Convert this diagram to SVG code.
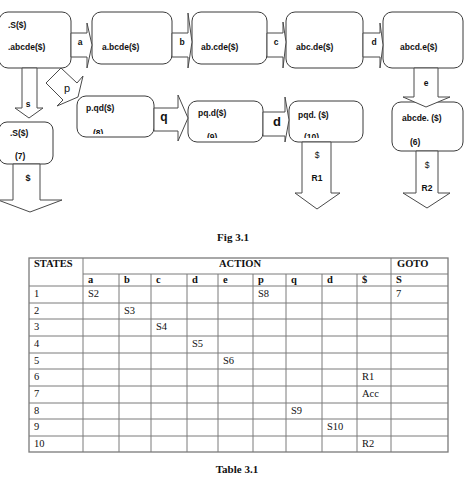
<svg xmlns="http://www.w3.org/2000/svg" width="466" height="478" viewBox="0 0 466 478">
<style>
.nd{fill:#fff;stroke:#3a3a3a;stroke-width:1}
.ar{fill:#fff;stroke:#4a4a4a;stroke-width:1;stroke-linejoin:miter}
.t{font-family:"Liberation Sans",Arial,sans-serif;font-weight:bold;font-size:8.5px;fill:#111}
.l{font-family:"Liberation Sans",Arial,sans-serif;font-weight:bold;font-size:8.5px;fill:#111;text-anchor:middle}
.tb{font-family:"Liberation Serif","Times New Roman",serif;font-size:10.5px;fill:#111}
.tbb{font-family:"Liberation Serif","Times New Roman",serif;font-size:10.5px;font-weight:bold;fill:#111}
.cap{font-family:"Liberation Serif","Times New Roman",serif;font-size:11px;font-weight:bold;fill:#111;text-anchor:middle}
.g{stroke:#7a7a7a;stroke-width:1;fill:none}
</style>
<defs>
<clipPath id="c8"><rect x="77" y="96" width="77" height="38"/></clipPath>
<clipPath id="c9"><rect x="188" y="101" width="75" height="37"/></clipPath>
<clipPath id="c10"><rect x="289" y="101" width="74" height="37"/></clipPath>
</defs>
<rect width="466" height="478" fill="#fff"/>

<g id="n1"><rect class="nd" x="-1" y="12" width="72" height="56" rx="9"/><text class="t" x="8" y="28">.S($)</text><text class="t" x="8" y="50">.abcde($)</text></g>
<g id="n2"><rect class="nd" x="92" y="12" width="80" height="52" rx="9"/><text class="t" x="102" y="50">a.bcde($)</text></g>
<g id="n3"><rect class="nd" x="192" y="12" width="75" height="52" rx="9"/><text class="t" x="201" y="50">ab.cde($)</text></g>
<g id="n4"><rect class="nd" x="286" y="12" width="77" height="56" rx="9"/><text class="t" x="296" y="50">abc.de($)</text></g>
<g id="n5"><rect class="nd" x="383" y="12" width="80" height="56" rx="9"/><text class="t" x="400" y="50">abcd.e($)</text></g>
<g id="n6"><rect class="nd" x="392" y="102" width="71" height="49" rx="9"/><text class="t" x="402" y="121">abcde. ($)</text><text class="t" x="410" y="145">(6)</text></g>
<g id="n7"><rect class="nd" x="-1" y="122" width="54" height="42" rx="8"/><text class="t" x="10" y="136">.S($)</text><text class="t" x="15" y="159">(7)</text></g>
<g id="n8"><rect class="nd" x="77" y="96" width="77" height="41" rx="9"/><text class="t" x="86" y="111">p.qd($)</text><text class="t" x="93" y="136" clip-path="url(#c8)">(8)</text></g>
<g id="n9"><rect class="nd" x="188" y="101" width="75" height="41" rx="9"/><text class="t" x="198" y="116">pq.d($)</text><text class="t" x="207" y="140" clip-path="url(#c9)">(9)</text></g>
<g id="n10"><rect class="nd" x="289" y="101" width="74" height="41" rx="9"/><text class="t" x="298" y="118">pqd. ($)</text><text class="t" x="304" y="140" clip-path="url(#c10)">(10)</text></g>

<g id="connectors">
<polygon class="ar" points="71,33 87,33 87,23 92,45 87,68 87,57 71,57"/>
<text class="l" x="80" y="45">a</text>
<polygon class="ar" points="172,33 188,33 188,13 192,42 188,68 188,57 172,57"/>
<text class="l" x="182" y="45">b</text>
<polygon class="ar" points="267,33 283,33 283,22 286,42 283,68 283,57 267,57"/>
<text class="l" x="276" y="45">c</text>
<polygon class="ar" points="363,33 380,33 380,23 383,45 380,68 380,57 363,57"/>
<text class="l" x="374" y="45">d</text>
<polygon class="ar" points="414,68 414,97 403,97 426,107 450,97 438,97 438,68"/>
<text class="l" x="426" y="86">e</text>
<polygon class="ar" points="416,151 416,193 403,193 427,208 450,193 438,193 438,151"/>
<text class="l" x="427" y="168" style="font-weight:normal">$</text>
<text class="l" x="427" y="191">R2</text>
<polygon class="ar" points="302,142 302,193 295,193 317,209 340,193 331,193 331,142"/>
<text class="l" x="317" y="158" style="font-weight:normal">$</text>
<text class="l" x="317" y="181">R1</text>
<polygon class="ar" points="22,68 22,108 15,108 29,118 43,108 37,108 37,68"/>
<text class="l" x="28" y="107">s</text>
<polygon class="ar" points="13,164 13,200 -2,200 30,212 62,200 40,200 40,164"/>
<text class="l" x="28" y="181" style="font-size:9px">$</text>
<polygon class="ar" points="61,68 46,83 63,100 57,106 78,97 83,76 77,83"/>
<text x="67" y="92" style="font-family:'Liberation Sans',Arial,sans-serif;font-size:11px;fill:#111;text-anchor:middle">p</text>
<polygon class="ar" points="154,108 178,108 178,95 188,118 178,141 178,131 154,131"/>
<text class="l" x="164" y="121" style="font-size:12px">q</text>
<polygon class="ar" points="263,112 285,112 285,97 289,120 285,142 285,136 263,136"/>
<text class="l" x="277" y="126" style="font-size:13px">d</text>
</g>

<text class="cap" x="233" y="241">Fig 3.1</text>

<g id="table">
<rect class="g" x="29" y="258" width="419" height="194" style="stroke-width:1.3"/>
<path class="g" d="M83 258V452M391 258V452M83 274H448M29 286H448M119 274V452M151 274V452M187 274V452M218 274V452M253 274V452M286 274V452M322 274V452M357 274V452M29 303H448M29 319H448M29 336H448M29 353H448M29 369H448M29 386H448M29 403H448M29 419H448M29 436H448"/>
<text class="tbb" x="34" y="267">STATES</text>
<text class="tbb" x="240" y="267" text-anchor="middle">ACTION</text>
<text class="tbb" x="397" y="267">GOTO</text>
<text class="tbb" x="88" y="283">a</text>
<text class="tbb" x="124" y="283">b</text>
<text class="tbb" x="156" y="283">c</text>
<text class="tbb" x="192" y="283">d</text>
<text class="tbb" x="223" y="283">e</text>
<text class="tbb" x="258" y="283">p</text>
<text class="tbb" x="291" y="283">q</text>
<text class="tbb" x="327" y="283">d</text>
<text class="tbb" x="362" y="283">$</text>
<text class="tbb" x="396" y="283">S</text>
<text class="tb" x="34" y="297">1</text>
<text class="tb" x="34" y="314">2</text>
<text class="tb" x="34" y="330">3</text>
<text class="tb" x="34" y="347">4</text>
<text class="tb" x="34" y="364">5</text>
<text class="tb" x="34" y="380">6</text>
<text class="tb" x="34" y="397">7</text>
<text class="tb" x="34" y="414">8</text>
<text class="tb" x="34" y="430">9</text>
<text class="tb" x="34" y="447">10</text>
<text class="tb" x="88" y="297">S2</text>
<text class="tb" x="258" y="297">S8</text>
<text class="tb" x="396" y="297">7</text>
<text class="tb" x="124" y="314">S3</text>
<text class="tb" x="156" y="330">S4</text>
<text class="tb" x="192" y="347">S5</text>
<text class="tb" x="223" y="364">S6</text>
<text class="tb" x="362" y="380">R1</text>
<text class="tb" x="362" y="397">Acc</text>
<text class="tb" x="291" y="414">S9</text>
<text class="tb" x="327" y="430">S10</text>
<text class="tb" x="362" y="447">R2</text>
</g>

<text class="cap" x="237" y="473">Table 3.1</text>
</svg>
